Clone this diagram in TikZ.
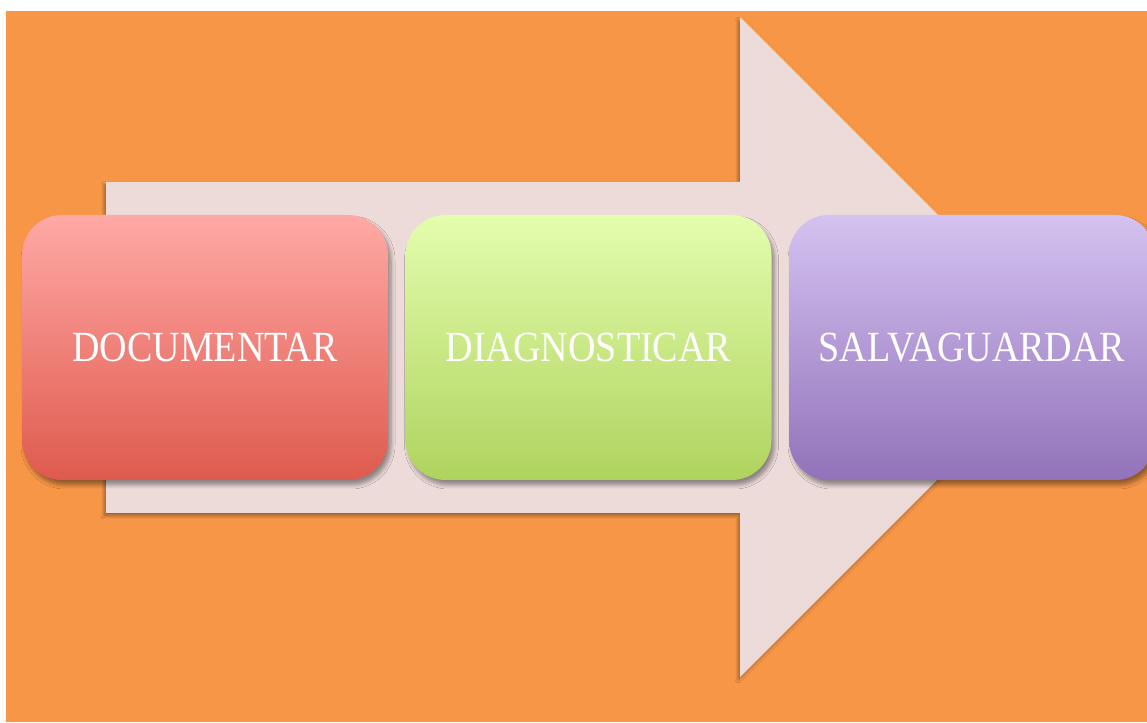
\documentclass[tikz,border=0pt]{standalone}
\usepackage{fontspec}
\setmainfont{Liberation Serif}
\usetikzlibrary{shadows.blur}
\definecolor{bgorange}{HTML}{F79646}
\definecolor{arrowfill}{HTML}{EDDBDA}
\definecolor{redtop}{HTML}{FFA9A5}
\definecolor{redbot}{HTML}{DF5A4E}
\definecolor{greentop}{HTML}{E4FDAE}
\definecolor{greenbot}{HTML}{AFD35E}
\definecolor{purpletop}{HTML}{D4C2F0}
\definecolor{purplebot}{HTML}{9272BA}
\tikzset{
  stepbox/.style={rounded corners=40pt, minimum width=366pt, minimum height=265pt,
    inner sep=0pt, text=white, font=\fontsize{43}{43}\selectfont,
    blur shadow={shadow xshift=3pt, shadow yshift=-5pt, shadow blur steps=6, shadow opacity=40, shadow blur radius=4pt}},
  bigarrow/.style={fill=arrowfill, blur shadow={shadow xshift=-2pt, shadow yshift=-3pt, shadow blur steps=6, shadow opacity=35, shadow blur radius=3pt}}
}
\newcommand{\boxtext}[1]{\scalebox{0.885}[1]{#1}}
\begin{document}
\begin{tikzpicture}[x=1pt,y=1pt]
\useasboundingbox (0,0) rectangle (1147,722);
\begin{scope}
\clip (0,0) rectangle (1147,722);
\fill[bgorange] (6,0) rectangle (1147,711);
\path[bigarrow] (106,540) -- (740,540) -- (740,705) -- (1070,375) -- (740,45) -- (740,209) -- (106,209) -- cycle;
\node[stepbox, top color=redtop, bottom color=redbot] (doc) at (205,374.5) {\boxtext{DOCUMENTAR}};
\node[stepbox, top color=greentop, bottom color=greenbot] (diag) at (588.5,374.5) {\boxtext{DIAGNOSTICAR}};
\node[stepbox, top color=purpletop, bottom color=purplebot] (salv) at (972,374.5) {\boxtext{SALVAGUARDAR}};
\end{scope}
\end{tikzpicture}
\end{document}
